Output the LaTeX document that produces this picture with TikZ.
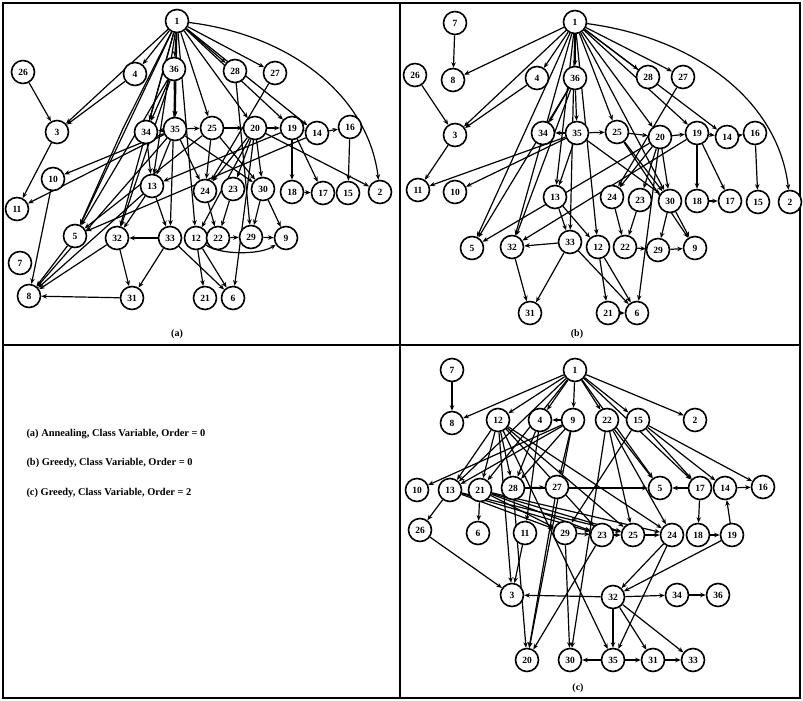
\documentclass[tikz,border=0pt]{standalone}
\usepackage{fontspec}
\setmainfont{Liberation Serif}
\usetikzlibrary{arrows.meta,calc}
\pgfdeclarelayer{bg}
\pgfsetlayers{bg,main}
\tikzset{
  vx/.style={circle,draw,fill=white,minimum size=23pt,inner sep=0pt,line width=1.6pt,
    font=\bfseries\fontsize{9.5}{10}\selectfont},
  arr/.style={line width=1.2pt,-{Stealth[length=5.5pt,width=4.5pt]}},
  frame/.style={line width=1.6pt},
  paneltag/.style={font=\bfseries\fontsize{10}{11}\selectfont},
  legend/.style={anchor=west,font=\bfseries\fontsize{10.4}{12}\selectfont}
}
\begin{document}
\begin{tikzpicture}[x=1pt,y=-1pt]
\useasboundingbox (0,0) rectangle (803,701);
% panel frames
\draw[frame] (3,3) rectangle (800,698);
\draw[frame] (400,3) -- (400,698);
\draw[frame] (3,345) -- (800,345);

% ---------- network (a) ----------
\foreach \n/\x/\y in {1/177/21,4/135/74,36/174/69,28/235/71,27/275/73,26/23/72,
  3/57/132,34/146/132,35/175/129,25/212/128,20/255/128,19/292/128,14/317/133,16/350/127,
  10/53/179,11/17/209,13/152/186,24/205/191,23/233/189,30/263/189,18/292/192,17/323/193,
  15/348/193,2/380/192,5/75/236,32/117/238,33/170/238,12/196/238,22/218/238,29/251/237,
  9/286/238,7/20/263,8/29/296,31/132/298,21/205/298,6/233/298}
  \node[vx] (a\n) at (\x,\y) {\n};
\node[paneltag] at (177,334) {(a)};
\begin{pgfonlayer}{bg}
\foreach \s/\t in {1/4,1/36,1/28,1/27,1/3,1/34,1/35,1/25,1/20,1/19,1/14,1/13,1/32,
  1/5,1/12,1/33,4/3,26/3,3/11,36/34,36/35,36/5,36/32,35/34,35/25,25/20,20/19,19/14,14/16,
  16/15,19/18,19/17,18/17,20/2,28/29,27/24,35/10,35/11,13/33,13/32,33/32,32/31,33/31,
  32/8,5/8,10/8,31/8,13/8,35/8,12/21,12/6,33/6,20/6,24/22,23/22,22/29,29/9,30/29,30/9,
  20/30,20/23,20/24,25/24,25/30,35/13,35/24,35/30,34/13,25/5,19/13,20/12,14/5}
  \draw[arr] (a\s) -- (a\t);
\draw[arr] (a1) .. controls (290,35) and (368,95) .. (a2);
\coordinate (abend) at ($(a1)!0.5!(a5)+(-3,0)$);
\draw[arr] (a1) -- (abend) -- (a5);
\draw[arr] (a12) .. controls (220,255) and (260,255) .. (a9);
\end{pgfonlayer}

% ---------- network (b) ----------
\foreach \n/\x/\y in {7/455/23,8/453/80,26/415/75,1/575/22,4/537/78,36/575/78,
  3/455/135,34/543/133,35/577/133,28/648/77,27/683/77,25/617/132,20/660/137,19/697/133,
  14/727/137,16/755/133,11/418/190,10/455/192,13/555/197,5/472/248,32/512/247,33/570/242,
  12/598/247,31/530/313,24/612/197,23/640/200,30/670/201,18/697/201,17/730/201,15/758/202,
  2/790/202,22/625/247,29/658/250,9/695/248,21/608/313,6/637/313}
  \node[vx] (b\n) at (\x,\y) {\n};
\node[paneltag] at (577,334) {(b)};
\begin{pgfonlayer}{bg}
\foreach \s/\t in {7/8,1/8,1/4,1/36,1/28,1/27,1/3,1/14,1/19,1/5,1/32,1/12,1/33,1/13,
  1/25,1/20,1/30,26/3,4/3,3/11,36/34,36/35,35/34,35/25,25/20,20/19,19/14,14/16,16/15,
  19/18,18/17,19/17,35/10,35/11,20/5,19/32,13/33,13/12,33/32,32/31,33/31,33/6,12/21,
  12/6,21/6,24/22,23/22,22/29,30/29,29/9,30/9,20/24,20/23,20/30,27/24,25/30,35/30,20/6,
  25/9,36/5,35/13,36/32}
  \draw[arr] (b\s) -- (b\t);
\draw[arr] (b1) .. controls (695,38) and (778,100) .. (b2);
\end{pgfonlayer}

% ---------- legend ----------
\node[legend] at (23,434) {(a) Annealing, Class Variable, Order = 0};
\node[legend] at (23,463) {(b) Greedy, Class Variable, Order = 0};
\node[legend] at (23,493) {(c) Greedy, Class Variable, Order = 2};

% ---------- network (c) ----------
\foreach \n/\x/\y in {7/452/370,8/452/423,1/575/370,12/498/420,4/540/420,9/573/420,
  22/607/420,15/638/420,2/695/420,10/417/490,13/450/490,21/480/490,28/513/488,27/557/487,
  5/660/488,17/700/488,14/725/488,16/763/487,26/420/530,6/478/533,11/525/533,29/565/533,
  23/602/535,25/633/535,24/672/535,18/698/535,19/732/535,3/512/595,32/613/597,34/677/595,
  36/718/595,20/527/660,30/570/660,35/613/660,31/653/660,33/693/660}
  \node[vx] (c\n) at (\x,\y) {\n};
\node[paneltag] at (578,688) {(c)};
\begin{pgfonlayer}{bg}
\foreach \s/\t in {7/8,1/8,1/12,1/4,1/9,1/22,1/15,1/2,1/13,1/21,1/5,1/17,9/4,9/10,
  9/13,9/28,9/27,12/13,12/21,12/28,12/23,12/24,12/25,12/35,4/28,28/27,21/29,21/23,21/25,
  21/24,13/23,13/29,13/25,13/26,21/6,26/3,11/3,32/3,29/23,23/25,25/24,24/32,24/35,23/20,
  29/30,22/5,22/24,22/25,22/30,15/17,15/14,15/16,15/29,17/5,14/16,17/18,18/19,19/14,
  19/32,32/34,34/36,32/35,32/31,32/33,35/31,31/33,35/30,28/20,27/20,28/5,12/3,4/11,9/20}
  \draw[arr] (c\s) -- (c\t);
\end{pgfonlayer}
\end{tikzpicture}
\end{document}
